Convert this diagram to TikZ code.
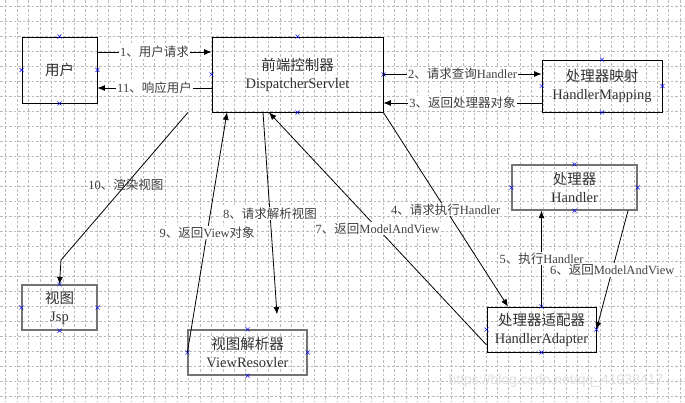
\documentclass[tikz,border=0pt]{standalone}
\usepackage{fontspec}
\setmainfont{Liberation Serif}
\newfontfamily\cjk{Noto Sans CJK SC}
\newfontfamily\wmfont{Liberation Sans}
\usetikzlibrary{arrows.meta, calc}
\newcommand{\zh}[1]{{\cjk #1}}

\begin{document}
\begin{tikzpicture}[x=1pt, y=-1pt, >={Latex[length=7.5pt,width=6pt]},
		box/.style={draw=black, line width=0.8pt, align=center, inner sep=0pt, font=\fontsize{14.5}{18}\selectfont, text=black!80},
		greybox/.style={box, draw=black!55, line width=1.3pt},
		conn/.style={->, line width=0.8pt},
		lbl/.style={fill=white, inner sep=1pt, font=\fontsize{12.5}{14}\selectfont, text=black!75},
		gridline/.style={gray!55, line width=0.5pt, dash pattern=on 2.5pt off 2pt},
		pin/.style={blue, line width=0.5pt}]
		% page and grid
		\fill[white] (0,0) rectangle (685,402);
		\useasboundingbox (0,0) rectangle (685,402);
		\foreach \i in {0,...,59}
			\draw[gridline] ({5.7+11.43*\i},0) -- ++(0,402);
		\foreach \j in {0,...,26}
			\draw[gridline] (0,{6.7+15*\j}) -- ++(685,0);
		
		% watermark
		\node[font=\wmfont\fontsize{14}{16}\selectfont, text=gray!25] (wm) at (556,381) {https://blog.csdn.net/qq\_41938417};
		
		% the boxes
		\node[box, minimum width=75, minimum height=66] (user) at (59.5,70) {\zh{用户}};
		\node[box, minimum width=171, minimum height=75] (ds) at (297.5,74.5) {\zh{前端控制器}\\DispatcherServlet};
		\node[box, minimum width=120, minimum height=52] (hm) at (602,86) {\zh{处理器映射}\\HandlerMapping};
		\node[greybox, minimum width=125, minimum height=45] (hd) at (574.5,187.5) {\zh{处理器}\\Handler};
		\node[box, minimum width=109, minimum height=45] (ha) at (541.5,329.5) {\zh{处理器适配器}\\HandlerAdapter};
		\node[greybox, minimum width=75, minimum height=45] (jsp) at (59.5,307.5) {\zh{视图}\\Jsp};
		\node[greybox, minimum width=119, minimum height=45] (vr) at (247.5,352.5) {\zh{视图解析器}\\ViewResovler};
		
		% connection points on every box
		\foreach \b in {user,ds,hm,hd,ha,jsp,vr}
			\foreach \a in {north,south,east,west} {
				\draw[pin] ([shift={(-2pt,-2pt)}]\b.\a) -- ([shift={(2pt,2pt)}]\b.\a);
				\draw[pin] ([shift={(-2pt,2pt)}]\b.\a) -- ([shift={(2pt,-2pt)}]\b.\a);
			}
		
		% 1 and 11
		\draw[conn] ([yshift=18pt]user.east) -- node[lbl] {1\zh{、用户请求}} ([yshift=22.5pt]ds.west);
		\draw[conn] ([yshift=-13.5pt]ds.west) -- node[lbl] {11\zh{、响应用户}} ([yshift=-18pt]user.east);
		
		% 2 and 3
		\draw[conn] ([yshift=0.5pt]ds.east) -- node[lbl] {2\zh{、请求查询}Handler} ([yshift=12pt]hm.west);
		\draw[conn] ([yshift=-17pt]hm.west) -- node[lbl] {3\zh{、返回处理器对象}} ([yshift=-28.5pt]ds.east);
		
		% 4, 5 and 6
		\draw[conn] (ds.south east) -- node[lbl, pos=0.5] {4\zh{、请求执行}Handler} ([xshift=-33.5pt]ha.north);
		\draw[conn] (ha.north) -- node[lbl] {5\zh{、执行}Handler} (ha.north |- hd.south);
		\draw[conn] ([xshift=53.5pt]hd.south) -- node[lbl] {6\zh{、返回}ModelAndView} (ha.east);
		
		% 7 back to the servlet
		\draw[conn] ([yshift=-15.5pt]ha.west) -- node[lbl] {7\zh{、返回}ModelAndView} ([xshift=-28.5pt]ds.south);
		
		% 8 and 9
		\coordinate (vrtop) at ([xshift=29.5pt,yshift=15pt]vr.north);
		\draw[conn] ([xshift=-34.5pt]ds.south) -- node[lbl] {8\zh{、请求解析视图}} (vrtop);
		\draw[conn] (vr.west) -- node[lbl] {9\zh{、返回}View\zh{对象}} ([xshift=-70.5pt]ds.south);
		
		% 10 render the view
		\coordinate (bend) at (61,260);
		\draw[conn] ([xshift=-109.5pt]ds.south) -- node[lbl, fill=none, pos=0.49] {10\zh{、渲染视图}} (bend) -- (jsp.north);
		
	\end{tikzpicture}
\end{document}
